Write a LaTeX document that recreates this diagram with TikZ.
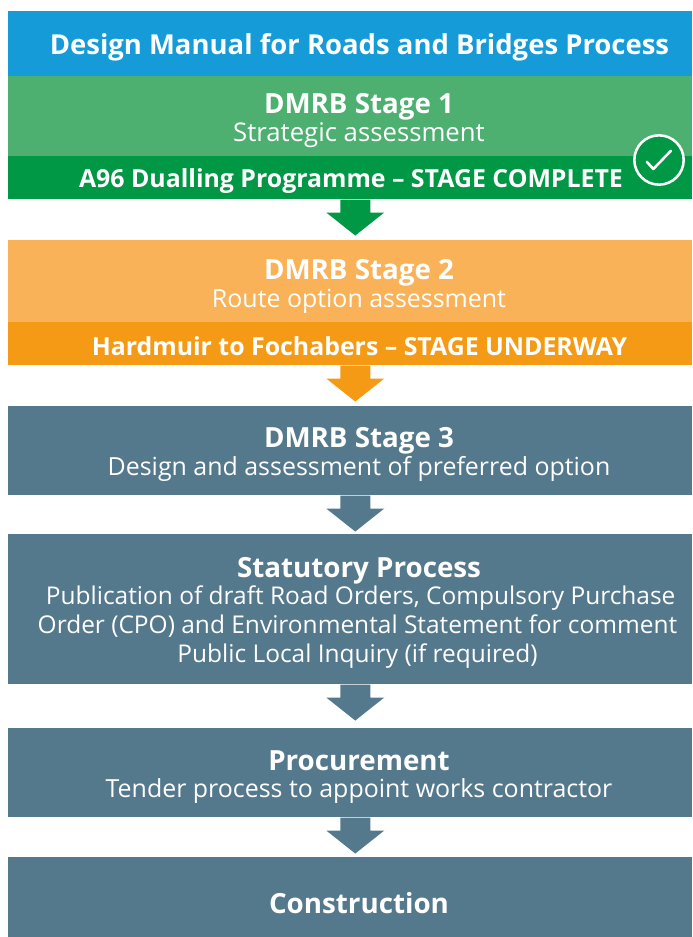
\documentclass[tikz,border=0pt]{standalone}
\usepackage{fontspec}
\setmainfont{Open Sans}
\usepackage{tikz}

\definecolor{headblue}{HTML}{159BD7}
\definecolor{palegreen}{HTML}{4EB070}
\definecolor{deepgreen}{HTML}{009845}
\definecolor{paleorange}{HTML}{FAB259}
\definecolor{deeporange}{HTML}{F59A14}
\definecolor{slate}{HTML}{55798C}

\tikzset{
  band/.style={anchor=north west, inner sep=0pt, minimum width=513pt},
  heading/.style={text=white, font=\fontsize{20.8}{22}\selectfont\bfseries, inner sep=0pt},
  detail/.style={text=white, font=\fontsize{18.7}{21.9}\selectfont, inner sep=0pt, align=center},
  status/.style={text=white, font=\fontsize{18.65}{20}\selectfont\bfseries, inner sep=0pt},
}

% block arrow hanging under a band
\newcommand{\flowarrow}[3]{
  \fill[#1] (#2.south) ++(-10,0) -- ++(0,#3) -- ++(-14,0) -- ++(29,23) -- ++(29,-23) -- ++(-14,0) -- ++(0,-#3) -- cycle;
}

\begin{document}
\begin{tikzpicture}[x=0.75pt, y=-0.75pt]
\useasboundingbox (0,0) rectangle (692,937);

\node[band, fill=headblue, minimum height=48.75pt] (head) at (8,11) {};
\node[heading, font=\fontsize{20.6}{22}\selectfont\bfseries] (headtext) at (359.5,47.5) {Design Manual for Roads and Bridges Process};

\node[band, fill=palegreen, minimum height=60pt] (one) at (8,76) {};
\node[band, fill=deepgreen, minimum height=32.25pt] (onebar) at (8,156) {};
\node[heading] (onetitle) at (359,106.5) {DMRB Stage 1};
\node[detail, font=\fontsize{19.3}{21.9}\selectfont] (onetext) at (359,135) {Strategic assessment};
\node[status] (onestatus) at (351,181.5) {A96 Dualling Programme – STAGE COMPLETE};
\node[circle, draw=white, fill=deepgreen, line width=1.9pt, minimum size=37pt, inner sep=0pt] (tick) at (659,160) {};
\draw[white, line width=1.9pt, line cap=round, line join=round] (646.7,161.7) -- (653.3,169) -- (671,150.7);
\flowarrow{deepgreen}{onebar}{13}

\node[band, fill=paleorange, minimum height=61.5pt] (two) at (8,240) {};
\node[band, fill=deeporange, minimum height=32.25pt] (twobar) at (8,322) {};
\node[heading] (twotitle) at (359,272.5) {DMRB Stage 2};
\node[detail] (twotext) at (359,301) {Route option assessment};
\node[status] (twostatus) at (359.5,346) {Hardmuir to Fochabers – STAGE UNDERWAY};
\flowarrow{deeporange}{twobar}{13}

\node[band, fill=slate, minimum height=66.75pt] (three) at (8,406) {};
\node[heading] (threetitle) at (359,440.5) {DMRB Stage 3};
\node[detail] (threetext) at (359,469) {Design and assessment of preferred option};
\flowarrow{slate}{three}{13}

\node[band, fill=slate, minimum height=112.5pt] (statutory) at (8,534) {};
\node[heading] (statutorytitle) at (359,570.5) {Statutory Process};
\node[detail, font=\fontsize{18.35}{21.9}\selectfont] (statutorytext) at (357.5,627) {\ Publication of draft Road Orders, Compulsory Purchase\\Order (CPO) and Environmental Statement for comment\\Public Local Inquiry (if required)};
\flowarrow{slate}{statutory}{13}

\node[band, fill=slate, minimum height=66.75pt] (procure) at (8,728) {};
\node[heading] (procuretitle) at (359,761) {Procurement};
\node[detail] (procuretext) at (359,791) {Tender process to appoint works contractor};
\flowarrow{slate}{procure}{13}

\node[band, fill=slate, minimum height=60pt] (build) at (8,857) {};
\node[heading] (buildtitle) at (359,903) {Construction};
\end{tikzpicture}
\end{document}
